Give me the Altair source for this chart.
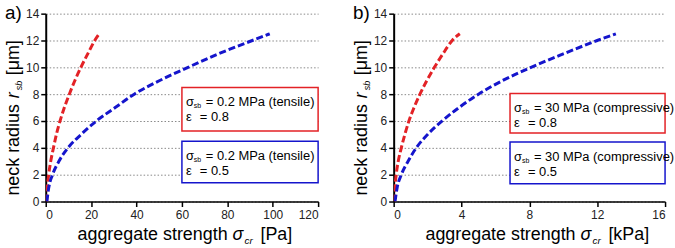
import altair as alt
import pandas as pd

# ---- data ----
Y_VALS = [0, 1, 2, 3, 4, 5, 6, 7, 8, 9, 10, 11, 12, 12.5]

# panel a (Pa)
A_RED_X = [0.4, 0.7, 1.3, 2.2, 3.4, 4.7, 6.3, 8.2, 10.4, 12.8, 15.5, 18.5, 21.6, 23.6]
A_BLUE_X = [0.5, 1.3, 3.0, 5.8, 9.8, 15.6, 22.3, 30.6, 39.0, 50.0, 62.7, 76.0, 91.0, 98.7]
# panel b (kPa)
B_RED_X = [0.05, 0.08, 0.15, 0.27, 0.45, 0.66, 0.9, 1.2, 1.55, 1.95, 2.4, 2.9, 3.45, 3.9]
B_BLUE_X = [0.08, 0.2, 0.45, 0.85, 1.33, 2.0, 2.85, 3.85, 5.0, 6.4, 8.1, 10.0, 12.0, 13.1]

SERIES = ["eps 0.8", "eps 0.5"]
COLORS = ["#e32226", "#1515cc"]

A_X_TICKS = [0, 20, 40, 60, 80, 100, 120]
B_X_TICKS = [0, 4, 8, 12, 16]
Y_TICKS = [0, 2, 4, 6, 8, 10, 12, 14]

# annotation boxes (data coords): x0, x1, y0, y1
A_BOXES = [(60, 120, 5.25, 8.5), (60, 120, 1.4, 4.5)]
B_BOXES = [(6.86, 16, 5.1, 8.05), (6.86, 16, 1.33, 4.44)]
A_LINE1 = "= 0.2 MPa (tensile)"
B_LINE1 = "= 30 MPa (compressive)"
LINE2 = ["= 0.8", "= 0.5"]

FONT = "Liberation Sans"
H = 189


def panel(red_x, blue_x, xmax, xticks, boxes, line1, unit, label, w):
    df = pd.DataFrame({
        "x": red_x + blue_x,
        "y": Y_VALS + Y_VALS,
        "s": [SERIES[0]] * len(red_x) + [SERIES[1]] * len(blue_x),
    })
    xs = alt.Scale(domain=[0, xmax], nice=False, zero=True)
    ys = alt.Scale(domain=[0, 14], nice=False)
    cs = alt.Scale(domain=SERIES, range=COLORS)
    xa = alt.Axis(values=xticks, title=None, grid=False, domainColor="black", domainWidth=1.5,
                  tickColor="black", tickSize=5, tickWidth=1.5, labelFont=FONT, labelFontSize=12,
                  labelColor="#222", labelPadding=3, format="d", labelOverlap=False)
    ya = alt.Axis(values=Y_TICKS, title=None, grid=True, gridDash=[1.5, 2], gridColor="#888",
                  gridWidth=1, domainColor="black", domainWidth=2, tickColor="black",
                  tickSize=5, tickWidth=1.5, labelFont=FONT, labelFontSize=12, labelColor="#222",
                  labelPadding=2, labelOverlap=False)

    lines = alt.Chart(df).mark_line(strokeDash=[7, 3], strokeWidth=3, clip=True,
                                    interpolate="monotone").encode(
        x=alt.X("x:Q", scale=xs, axis=xa),
        y=alt.Y("y:Q", scale=ys, axis=ya),
        color=alt.Color("s:N", scale=cs, legend=None),
        order="y:Q",
        detail="s:N",
    )

    bdf = pd.DataFrame({
        "x0": [b[0] for b in boxes], "x1": [b[1] for b in boxes],
        "y0": [b[2] for b in boxes], "y1": [b[3] for b in boxes],
        "s": SERIES, "l1": [line1, line1], "l2": LINE2,
    })
    rects = alt.Chart(bdf).mark_rect(fill="white", strokeWidth=1.5).encode(
        x=alt.X("x0:Q", scale=xs, axis=xa), x2="x1:Q",
        y=alt.Y("y0:Q", scale=ys, axis=ya), y2="y1:Q",
        stroke=alt.Color("s:N", scale=cs, legend=None),
    )
    tbase = alt.Chart(bdf).encode(x=alt.X("x0:Q", scale=xs, axis=xa),
                                  y=alt.Y("y1:Q", scale=ys, axis=ya))
    sig = tbase.mark_text(text="σ", align="left", baseline="alphabetic", dx=4, dy=19,
                          font=FONT, fontSize=13, color="black")
    sb = tbase.mark_text(text="sb", align="left", baseline="alphabetic", dx=12, dy=21,
                         font=FONT, fontSize=7, color="black")
    l1 = tbase.mark_text(align="left", baseline="alphabetic", dx=24, dy=19,
                         font=FONT, fontSize=13, color="black").encode(text="l1:N")
    eps = tbase.mark_text(text="ε", align="left", baseline="alphabetic", dx=4, dy=34,
                          font=FONT, fontSize=13, color="black")
    l2 = tbase.mark_text(align="left", baseline="alphabetic", dx=18, dy=34,
                         font=FONT, fontSize=13, color="black").encode(text="l2:N")

    one = pd.DataFrame({"k": [0]})
    base = alt.Chart(one)
    # x-axis title: aggregate strength σ_cr [unit]
    xt_x, xt_y = 32, H + 39
    xt = [
        base.mark_text(text="aggregate strength", align="left", baseline="alphabetic",
                       font=FONT, fontSize=18, color="black").encode(x=alt.value(xt_x), y=alt.value(xt_y)),
        base.mark_text(text="σ", align="left", baseline="alphabetic", dx=156,
                       font=FONT, fontSize=18, fontStyle="italic", color="black").encode(x=alt.value(xt_x), y=alt.value(xt_y)),
        base.mark_text(text="cr", align="left", baseline="alphabetic", dx=168, dy=4,
                       font=FONT, fontSize=10, fontStyle="italic", color="black").encode(x=alt.value(xt_x), y=alt.value(xt_y)),
        base.mark_text(text="[" + unit + "]", align="left", baseline="alphabetic", dx=184,
                       font=FONT, fontSize=18, color="black").encode(x=alt.value(xt_x), y=alt.value(xt_y)),
    ]
    # y-axis title: neck radius r_sb [μm] (rotated)
    yt_x, yt_y = -27, 183
    yt = [
        base.mark_text(text="neck radius", align="left", baseline="alphabetic", angle=270,
                       font=FONT, fontSize=18, color="black").encode(x=alt.value(yt_x), y=alt.value(yt_y)),
        base.mark_text(text="r", align="left", baseline="alphabetic", angle=270, dx=98,
                       font=FONT, fontSize=18, fontStyle="italic", color="black").encode(x=alt.value(yt_x), y=alt.value(yt_y)),
        base.mark_text(text="sb", align="left", baseline="alphabetic", angle=270, dx=106, dy=3,
                       font=FONT, fontSize=9, fontStyle="italic", color="black").encode(x=alt.value(yt_x), y=alt.value(yt_y)),
        base.mark_text(text="[μm]", align="left", baseline="alphabetic", angle=270, dx=121,
                       font=FONT, fontSize=18, color="black").encode(x=alt.value(yt_x), y=alt.value(yt_y)),
    ]
    lab = base.mark_text(text=label, align="left", baseline="alphabetic",
                         font=FONT, fontSize=19, color="black").encode(x=alt.value(-41), y=alt.value(5))

    return alt.layer(lines, rects, sig, sb, l1, eps, l2, *xt, *yt, lab).properties(width=w, height=H)


left = panel(A_RED_X, A_BLUE_X, 120, A_X_TICKS, A_BOXES, A_LINE1, "Pa", "a)", 274)
right = panel(B_RED_X, B_BLUE_X, 16, B_X_TICKS, B_BOXES, B_LINE1, "kPa", "b)", 273)

chart = alt.hconcat(left, right, spacing=76, bounds="flush").configure_view(
    stroke=None).properties(padding={"left": 4, "top": 3, "right": 0, "bottom": 0},
                            background="white")

chart.save("out.html", embed_options={"renderer": "svg", "actions": False})
